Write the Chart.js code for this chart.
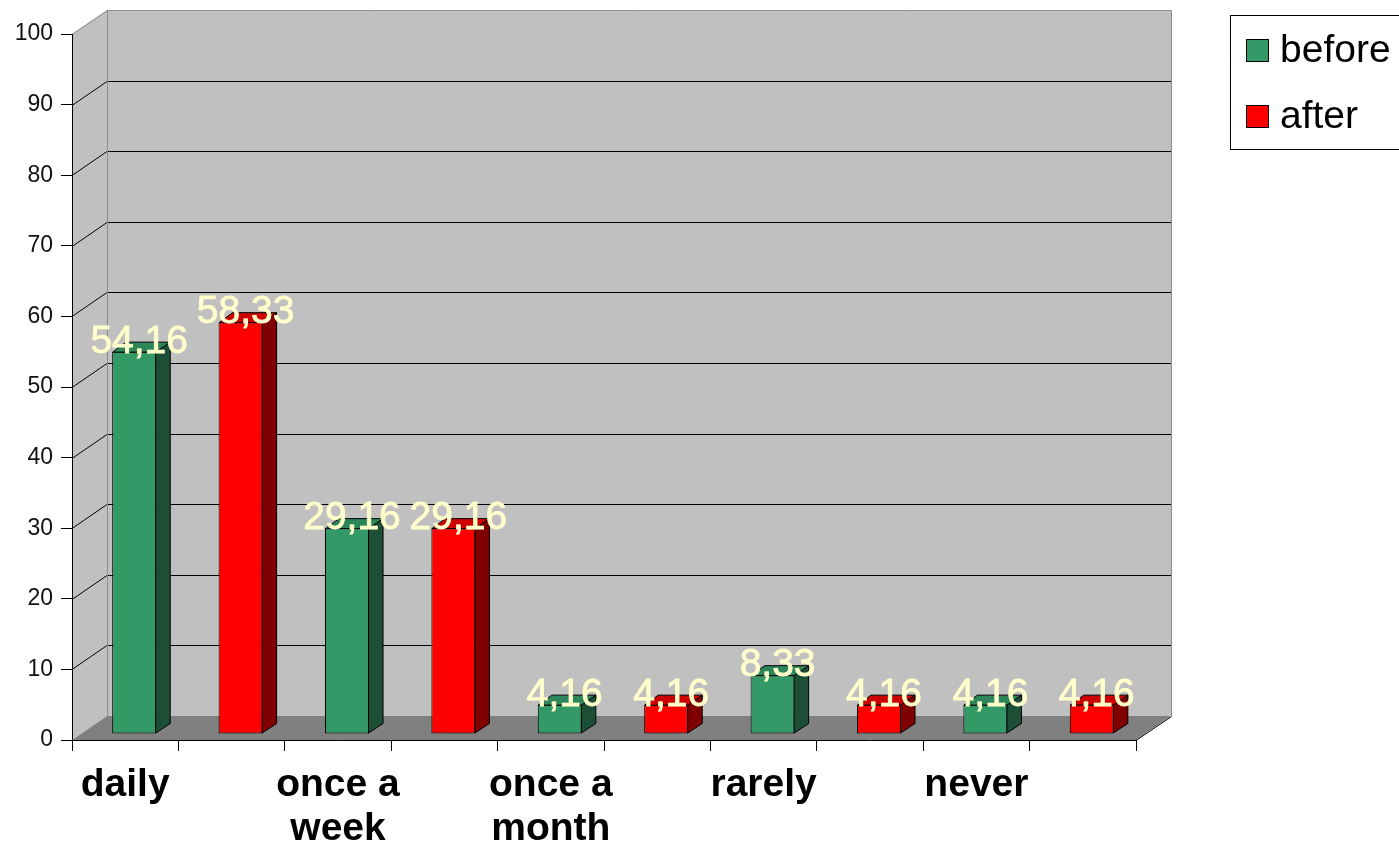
<!DOCTYPE html>
<html>
<head>
<meta charset="utf-8">
<script src="https://cdn.jsdelivr.net/npm/chart.js@4/dist/chart.umd.min.js"></script>
<style>
  html, body { margin: 0; padding: 0; background: #fff; }
  #wrap { width: 1399px; height: 849px; position: relative; }
</style>
</head>
<body>
<div id="wrap"><canvas id="c"></canvas></div>
<script>
// Frequency categories (one bar per slot; labels under every other slot)
const categories = ['daily', '', ['once a', 'week'], '', ['once a', 'month'], '', 'rarely', '', 'never', ''];
const seriesNames = ['before', 'after'];
const beforeValues = [54.16, null, 29.16, null, 4.16, null, 8.33, null, 4.16, null];
const afterValues  = [null, 58.33, null, 29.16, null, 4.16, null, 4.16, null, 4.16];
const yTicks = [0, 10, 20, 30, 40, 50, 60, 70, 80, 90, 100];

const FONT = '"Liberation Sans", Arial, sans-serif';

// Depth of the 3D box (back wall offset) and of the bars
const WALL_DX = 35, WALL_DY = -24;
const BAR_SHIFT_X = 9, BAR_SHIFT_Y = -6;
const BAR_DX = 14, BAR_DY = -10;

const faces = [
  { front: '#339966', top: '#2d8659', side: '#1c4f35' },
  { front: '#ff0000', top: '#cc0000', side: '#800000' }
];

const box3d = {
  id: 'box3d',
  beforeDraw(chart) {
    const { ctx, chartArea: a } = chart;
    const L = a.left, R = a.right, T = a.top, B = a.bottom;
    ctx.save();
    ctx.fillStyle = '#ffffff';
    ctx.fillRect(0, 0, chart.width, chart.height);

    // back wall
    ctx.fillStyle = '#c0c0c0';
    ctx.fillRect(L + WALL_DX, T + WALL_DY, R - L, B - T);
    // left wall
    ctx.beginPath();
    ctx.moveTo(L, T); ctx.lineTo(L + WALL_DX, T + WALL_DY);
    ctx.lineTo(L + WALL_DX, B + WALL_DY); ctx.lineTo(L, B);
    ctx.closePath(); ctx.fill();
    // floor
    ctx.fillStyle = '#808080';
    ctx.beginPath();
    ctx.moveTo(L, B); ctx.lineTo(R, B);
    ctx.lineTo(R + WALL_DX, B + WALL_DY); ctx.lineTo(L + WALL_DX, B + WALL_DY);
    ctx.closePath(); ctx.fill();

    // gridlines on the back wall + their continuation on the left wall
    const y = chart.scales.y;
    ctx.lineWidth = 1;
    ctx.strokeStyle = '#000';
    yTicks.forEach(v => {
      if (v === 0 || v === 100) return;
      const py = Math.round(y.getPixelForValue(v)) + 0.5;
      ctx.beginPath();
      ctx.moveTo(L + WALL_DX, py + WALL_DY);
      ctx.lineTo(R + WALL_DX, py + WALL_DY);
      ctx.stroke();
      ctx.beginPath();
      ctx.moveTo(L, py);
      ctx.lineTo(L + WALL_DX, py + WALL_DY);
      ctx.stroke();
    });

    // wall edges
    ctx.strokeStyle = '#8c8c8c';
    ctx.beginPath();
    ctx.moveTo(L, T + 0.5); ctx.lineTo(L + WALL_DX + 0.5, T + WALL_DY + 0.5);
    ctx.lineTo(R + WALL_DX + 0.5, T + WALL_DY + 0.5);
    ctx.lineTo(R + WALL_DX + 0.5, B + WALL_DY);
    ctx.moveTo(L + WALL_DX + 0.5, T + WALL_DY);
    ctx.lineTo(L + WALL_DX + 0.5, B + WALL_DY);
    ctx.stroke();
    // floor right edge
    ctx.strokeStyle = '#000';
    ctx.beginPath();
    ctx.moveTo(R, B + 0.5); ctx.lineTo(R + WALL_DX + 0.5, B + WALL_DY + 0.5);
    ctx.stroke();
    ctx.restore();
  },
  beforeDatasetsDraw(chart) {
    chart.ctx.save();
    chart.ctx.translate(BAR_SHIFT_X, BAR_SHIFT_Y);
  },
  afterDatasetsDraw(chart) {
    const ctx = chart.ctx;
    // side and top faces of each bar
    chart.data.datasets.forEach((ds, di) => {
      const meta = chart.getDatasetMeta(di);
      meta.data.forEach((el, i) => {
        if (ds.data[i] == null) return;
        const p = el.getProps(['x', 'y', 'base', 'width'], true);
        const l = p.x - p.width / 2, r = p.x + p.width / 2;
        const t = p.y, b = p.base;
        ctx.lineWidth = 1;
        ctx.strokeStyle = '#000';
        ctx.lineJoin = 'round';
        // side
        ctx.fillStyle = faces[di].side;
        ctx.beginPath();
        ctx.moveTo(r - 0.5, t + 0.5); ctx.lineTo(r + BAR_DX, t + BAR_DY + 0.5);
        ctx.lineTo(r + BAR_DX, b + BAR_DY); ctx.lineTo(r - 0.5, b - 0.5);
        ctx.closePath(); ctx.fill(); ctx.stroke();
        // top
        ctx.fillStyle = faces[di].top;
        ctx.beginPath();
        ctx.moveTo(l + 0.5, t + 0.5); ctx.lineTo(l + BAR_DX, t + BAR_DY + 0.5);
        ctx.lineTo(r + BAR_DX, t + BAR_DY + 0.5); ctx.lineTo(r - 0.5, t + 0.5);
        ctx.closePath(); ctx.fill(); ctx.stroke();
      });
    });
    ctx.restore();

    // value labels
    ctx.save();
    ctx.font = '39px ' + FONT;
    ctx.fillStyle = '#ffffcc';
    ctx.strokeStyle = '#ffffcc';
    ctx.lineWidth = 0.8;
    ctx.textAlign = 'center';
    ctx.textBaseline = 'alphabetic';
    chart.data.datasets.forEach((ds, di) => {
      const meta = chart.getDatasetMeta(di);
      meta.data.forEach((el, i) => {
        const v = ds.data[i];
        if (v == null) return;
        const p = el.getProps(['x', 'y'], true);
        const txt = String(v).replace('.', ',');
        const tx = p.x + BAR_SHIFT_X + 5, ty = p.y + BAR_SHIFT_Y + 1;
        ctx.fillText(txt, tx, ty);
        ctx.strokeText(txt, tx, ty);
      });
    });
    ctx.restore();
  },
  afterDraw(chart) {
    // legend box
    const ctx = chart.ctx;
    ctx.save();
    ctx.fillStyle = '#fff';
    ctx.fillRect(1230, 15, 200, 134);
    ctx.strokeStyle = '#000';
    ctx.lineWidth = 1;
    ctx.strokeRect(1230.5, 15.5, 200, 134);
    ctx.font = '39px ' + FONT;
    ctx.textBaseline = 'alphabetic';
    ctx.textAlign = 'left';
    chart.data.datasets.forEach((ds, di) => {
      const sy = 39 + di * 66;
      ctx.fillStyle = ds.backgroundColor;
      ctx.fillRect(1246, sy, 23, 23);
      ctx.strokeStyle = '#000';
      ctx.strokeRect(1246.5, sy + 0.5, 22, 22);
      ctx.fillStyle = '#000';
      ctx.fillText(ds.label, 1280, sy + 23);
    });
    ctx.restore();
  }
};

new Chart(document.getElementById('c'), {
  type: 'bar',
  data: {
    labels: categories,
    datasets: [
      { label: seriesNames[0], data: beforeValues, backgroundColor: faces[0].front },
      { label: seriesNames[1], data: afterValues, backgroundColor: faces[1].front }
    ]
  },
  options: {
    responsive: true,
    maintainAspectRatio: false,
    animation: false,
    events: [],
    layout: { padding: { top: 34, right: 263, bottom: 0, left: 0 } },
    datasets: {
      bar: {
        grouped: false,
        categoryPercentage: 1,
        barPercentage: 0.414,
        borderWidth: 1,
        borderColor: '#000',
        borderSkipped: false
      }
    },
    plugins: {
      legend: { display: false },
      tooltip: { enabled: false }
    },
    scales: {
      x: {
        offset: true,
        grid: { offset: true, drawOnChartArea: false, drawTicks: true, tickLength: 11, color: '#000' },
        border: { display: true, color: '#000' },
        ticks: {
          autoSkip: false, maxRotation: 0, minRotation: 0, padding: 12,
          color: '#000', font: { family: FONT, size: 39, weight: 'bold', lineHeight: 1.13 }
        },
        afterFit(s) { s.height = 109; }
      },
      y: {
        min: 0, max: 100,
        afterBuildTicks(s) { s.ticks = yTicks.map(v => ({ value: v })); },
        grid: { drawOnChartArea: false, drawTicks: true, tickLength: 11, color: '#000' },
        border: { display: true, color: '#000' },
        ticks: { padding: 8, color: '#111', font: { family: FONT, size: 23 } },
        afterFit(s) { s.width = 72; }
      }
    }
  },
  plugins: [box3d]
});
</script>
</body>
</html>
